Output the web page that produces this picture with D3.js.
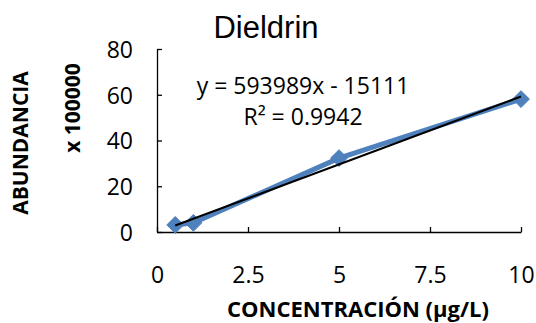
<!DOCTYPE html>
<html>
<head>
<meta charset="utf-8">
<script src="https://cdn.jsdelivr.net/npm/d3@7"></script>
<style>
  body { margin: 0; background: #fff; }
  svg text { font-family: "Open Sans", "Noto Sans", sans-serif; fill: #000; }
</style>
</head>
<body>
<div id="chart"></div>
<script>
const CONC = [0.5, 1, 5, 10]
const ABUND = [3.1, 4.0, 32.3, 58.1]
const X_TICKS = [0, 2.5, 5, 7.5, 10]
const Y_TICKS = [0, 20, 40, 60, 80]
const TREND = [593989, -15111]   // slope, intercept
const SCALE = 100000

let width = 536, height = 323;
let margin = {top: 49, right: 15, bottom: 91, left: 157};

let svg = d3.select("#chart")
  .append("svg")
    .attr("width", width)
    .attr("height", height);

let x = d3.scaleLinear().domain([0, 10]).range([margin.left, 521]);
let y = d3.scaleLinear().domain([0, 80]).range([232, margin.top]);

// axes, ticks inside like excel
let xAxis = svg.append("g")
  .attr("transform", "translate(0," + y(0) + ")")
  .call(d3.axisBottom(x).tickValues(X_TICKS).tickSizeInner(-5).tickSizeOuter(0)
    .tickFormat(d => d));
xAxis.selectAll("text").attr("y", 51).attr("dy", 0).style("font-size", "23px");

let yAxis = svg.append("g")
  .attr("transform", "translate(" + x(0) + ",0)")
  .call(d3.axisLeft(y).tickValues(Y_TICKS).tickSizeInner(-5).tickSizeOuter(0));
yAxis.selectAll("text").attr("x", -24).attr("dy", "0.36em").style("font-size", "23px");

svg.selectAll(".domain, .tick line").attr("stroke", "#000").attr("stroke-width", 1.3);

// series
let line = d3.line().x((d, i) => x(CONC[i])).y(d => y(d));
svg.append("path")
  .datum(ABUND)
  .attr("fill", "none")
  .attr("stroke", "#4F81BD")
  .attr("stroke-width", 5)
  .attr("d", line);

svg.selectAll("mymarker")
  .data(ABUND)
  .enter()
  .append("path")
    .attr("d", d3.symbol().type(d3.symbolDiamond2).size(180))
    .attr("transform", (d, i) => "translate(" + x(CONC[i]) + "," + y(d) + ")")
    .attr("fill", "#4F81BD")
    .attr("stroke", "#4A7EBB")
    .attr("stroke-width", 1);

// linear trendline
let x0 = d3.min(CONC), x1 = d3.max(CONC);
let f = v => (TREND[0] * v + TREND[1]) / SCALE;
svg.append("line")
  .attr("x1", x(x0)).attr("y1", y(f(x0)))
  .attr("x2", x(x1)).attr("y2", y(f(x1)))
  .attr("stroke", "#000")
  .attr("stroke-width", 2);

// texts
svg.append("text")
  .attr("x", 266).attr("y", 38)
  .attr("text-anchor", "middle")
  .style("font-family", "'Liberation Sans', Arial, sans-serif")
  .style("font-size", "31px")
  .text("Dieldrin");

svg.append("text")
  .attr("x", 303).attr("y", 94)
  .attr("text-anchor", "middle")
  .style("font-size", "23px")
  .text("y = 593989x - 15111");

svg.append("text")
  .attr("x", 303).attr("y", 125)
  .attr("text-anchor", "middle")
  .style("font-size", "23px")
  .text("R² = 0.9942");

svg.append("text")
  .attr("transform", "translate(28,143) rotate(-90)")
  .attr("text-anchor", "middle")
  .style("font-size", "21px")
  .style("font-weight", "bold")
  .text("ABUNDANCIA");

svg.append("text")
  .attr("transform", "translate(80,108) rotate(-90)")
  .attr("text-anchor", "middle")
  .style("font-size", "21px")
  .style("font-weight", "bold")
  .text("x 100000");

svg.append("text")
  .attr("x", 358).attr("y", 317)
  .attr("text-anchor", "middle")
  .style("font-size", "22px")
  .style("font-weight", "bold")
  .text("CONCENTRACIÓN (µg/L)");
</script>
</body>
</html>
